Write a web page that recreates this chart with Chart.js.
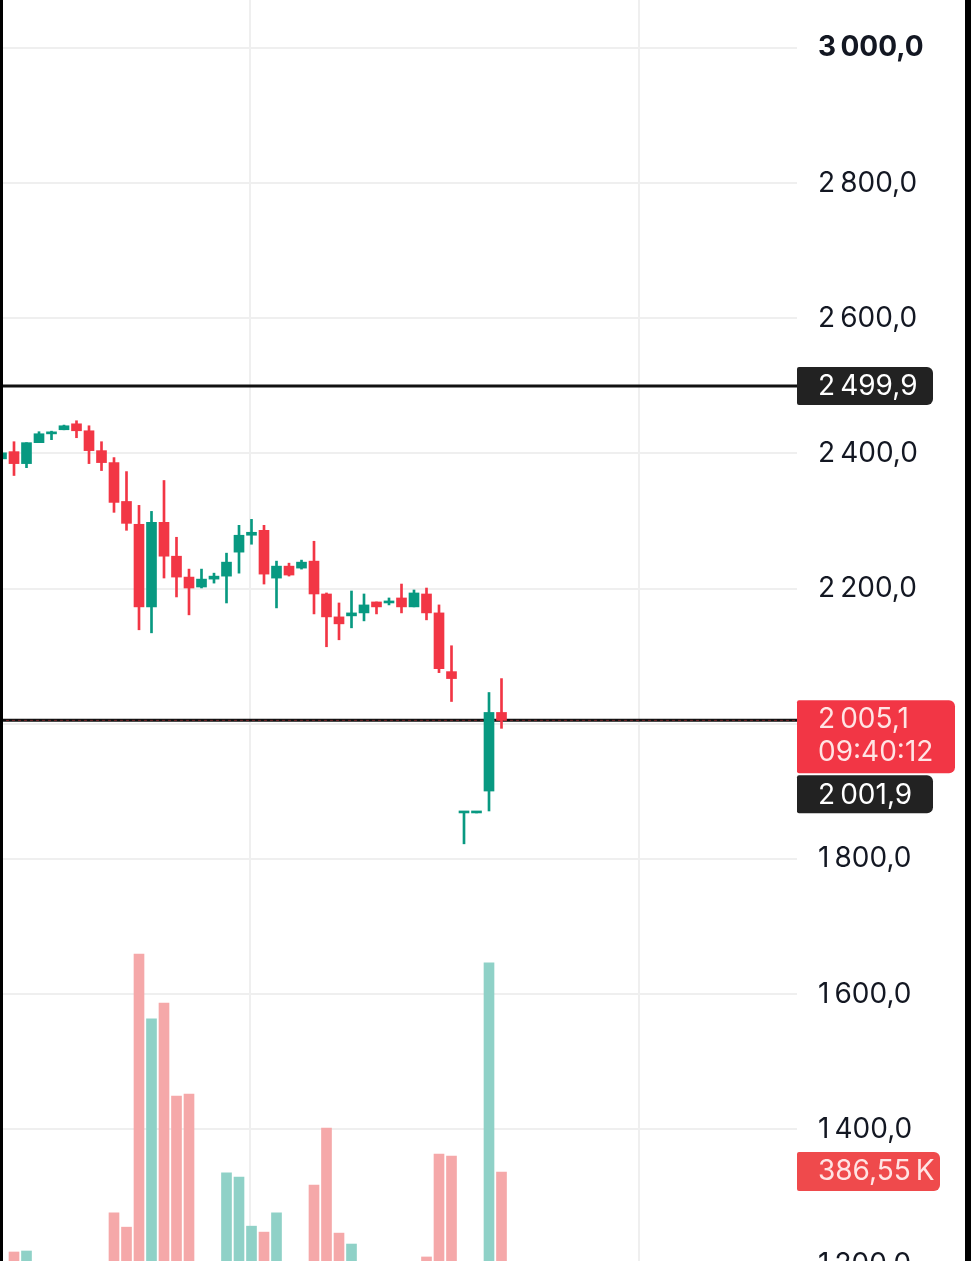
<!DOCTYPE html>
<html>
<head>
<meta charset="utf-8">
<script src="https://cdn.jsdelivr.net/npm/chart.js@4/dist/chart.umd.min.js"></script>
<style>
  html, body { margin: 0; padding: 0; background: #fff; overflow: hidden; width: 971px; height: 1261px; }
  #wrap { position: relative; width: 971px; height: 1300px; }
  .edge { position: absolute; top: 0; height: 1261px; background: #000; }
</style>
</head>
<body>
<div id="wrap">
  <canvas id="chart" width="971" height="1300"></canvas>
  <div class="edge" style="left:0;width:3px"></div>
  <div class="edge" style="right:0;width:6px"></div>
</div>
<script>
// --- datos de las velas ---
const opens  = [2392, 2402.7, 2385, 2416, 2429, 2435.1, 2443.9, 2433.6, 2404.2, 2386.5,
                2329, 2295.2, 2173, 2298.1, 2248, 2217.1, 2202.4, 2214.1, 2218.5, 2254,
                2279, 2286.3, 2215.6, 2233.3, 2230.4, 2240.7, 2192.1, 2158.2, 2159.7, 2164.1,
                2180.3, 2178.8, 2186.2, 2173, 2192.1, 2164.1, 2077.2, 1868.1, 1868.1, 1900.5,
                2016.8];
const highs  = [2405, 2417.4, 2416, 2432.2, 2433, 2442, 2448.4, 2441, 2417.4, 2393.9,
                2373.2, 2323.2, 2314.3, 2360, 2276, 2228.9, 2228.9, 2222.9, 2252.5, 2293.7,
                2302.5, 2293.7, 2240.7, 2237.7, 2242.2, 2270.1, 2193.6, 2178.8, 2196.5, 2192.1,
                2180.3, 2186.2, 2206.8, 2198, 2200.9, 2175.9, 2115.5, 1868.1, 1868.1, 2046.3,
                2066.9];
const lows   = [2390, 2367.4, 2379, 2416, 2420.4, 2435, 2423.3, 2385, 2374.7, 2312.9,
                2286.3, 2139.1, 2134.6, 2215.7, 2187.7, 2161.2, 2201, 2208.2, 2178.8, 2222.9,
                2265.7, 2206.8, 2171.5, 2218.6, 2228.9, 2162.6, 2114, 2124.3, 2142, 2152.3,
                2162.6, 2175.9, 2164.1, 2173, 2153.8, 2075.7, 2033, 1822.4, 1868.1, 1871,
                1993.3];
const closes = [2401, 2385, 2416, 2429.2, 2432, 2441, 2433.6, 2404.2, 2386.5, 2327.6,
                2296.6, 2173, 2298.1, 2248, 2217.1, 2200.9, 2214.1, 2218.5, 2239.2, 2279,
                2283.4, 2221.5, 2233.3, 2220.1, 2239.2, 2192.1, 2158.2, 2147.9, 2164.1, 2175.9,
                2173, 2181.8, 2173, 2193.6, 2164.1, 2081.6, 2066.9, 1868.1, 1868.1, 2016.8,
                2005.1];
// volumen en miles (K)
const volumes = [100, 145, 148, 90, 70, 60, 80, 100, 105, 263,
                 220, 1045, 849, 897, 616, 622, 100, 80, 384, 371,
                 223, 205, 263, 90, 70, 347, 519, 202, 169, 100,
                 80, 60, 90, 100, 130, 441, 435, 40, 10, 1018,
                 386.55];

// ticks del eje de precios y lineas verticales de la cuadricula
const priceTicks = [1200, 1400, 1600, 1800, 2000, 2200, 2400, 2600, 2800, 3000];
const timeGrid = [19.88, 51.0];

// niveles marcados a la derecha
const alertLevel = 2499.9;
const lastPrice = 2005.1;
const bidPrice = 2001.9;
const countdown = '09:40:12';
const lastVolume = 386.55;

const GREEN = '#089981';
const RED = '#f23645';
const VOL_GREEN = '#8fd1c7';
const VOL_RED = '#f5a8a9';
const FONT = 'Inter, "Liberation Sans", sans-serif';

function fmt(n, dec) {
    const parts = n.toFixed(dec).split('.');
    const ent = parts[0].replace(/\B(?=(\d{3})+(?!\d))/g, '\u2009');
    return dec ? ent + ',' + parts[1] : ent;
}

const up = closes.map((c, i) => c >= opens[i]);

const wickData = lows.map((l, i) => ({ x: i, y: [l, highs[i]] }));
const bodyData = opens.map((o, i) => ({ x: i, y: [o, closes[i]] }));
const volData = volumes.map((v, i) => ({ x: i, y: v }));

// lineas horizontales y etiquetas del eje
const overlayPlugin = {
    id: 'overlay',
    beforeDatasetsDraw(chart) {
        const { ctx, chartArea, scales } = chart;
        const yA = scales.y.getPixelForValue(alertLevel);
        const yL = scales.y.getPixelForValue(lastPrice);
        ctx.save();
        ctx.strokeStyle = '#111';
        ctx.lineWidth = 3;
        ctx.beginPath();
        ctx.moveTo(chartArea.left, yA); ctx.lineTo(chartArea.right, yA);
        ctx.moveTo(chartArea.left, yL); ctx.lineTo(chartArea.right, yL);
        ctx.stroke();
        ctx.strokeStyle = 'rgba(200,50,60,0.55)';
        ctx.lineWidth = 1;
        ctx.setLineDash([3, 3]);
        ctx.beginPath();
        ctx.moveTo(chartArea.left, yL); ctx.lineTo(chartArea.right, yL);
        ctx.stroke();
        ctx.restore();
    },
    afterDraw(chart) {
        const { ctx, chartArea, scales } = chart;
        const x0 = chartArea.right;
        const tx = x0 + 21;
        ctx.save();
        ctx.font = '400 28px ' + FONT;
        ctx.textBaseline = 'middle';
        ctx.textAlign = 'left';

        function box(top, w, h, color) {
            ctx.fillStyle = color;
            ctx.beginPath();
            ctx.roundRect(x0, top, w, h, [2, 6, 6, 2]);
            ctx.fill();
        }

        const yA = scales.y.getPixelForValue(alertLevel);
        box(yA - 19, 136, 38, '#222222');
        ctx.fillStyle = '#ffffff';
        ctx.fillText(fmt(alertLevel, 1), tx, yA + 1);

        const yL = scales.y.getPixelForValue(lastPrice);
        const redTop = yL - 20;
        box(redTop, 158, 73, RED);
        ctx.fillStyle = '#ffe4e4';
        ctx.fillText(fmt(lastPrice, 1), tx, redTop + 19);
        ctx.fillText(countdown, tx, redTop + 52);

        const bidTop = redTop + 75;
        box(bidTop, 136, 38, '#222222');
        ctx.fillStyle = '#ffffff';
        ctx.fillText(fmt(bidPrice, 1), tx, bidTop + 20);

        const yV = scales.vol.getPixelForValue(lastVolume);
        box(yV - 20, 143, 39, '#ef4a4c');
        ctx.fillStyle = '#ffe4e4';
        ctx.fillText(fmt(lastVolume, 2) + '\u2009K', tx, yV);
        ctx.restore();
    }
};

new Chart(document.getElementById('chart'), {
    type: 'bar',
    data: {
        datasets: [
            {
                label: 'Volumen',
                data: volData,
                yAxisID: 'vol',
                backgroundColor: up.map(u => u ? VOL_GREEN : VOL_RED),
                barThickness: 10,
                grouped: false,
                order: 3
            },
            {
                label: 'Mecha',
                data: wickData,
                yAxisID: 'y',
                backgroundColor: up.map(u => u ? GREEN : RED),
                barThickness: 2,
                grouped: false,
                order: 2
            },
            {
                label: 'Cuerpo',
                data: bodyData,
                yAxisID: 'y',
                backgroundColor: up.map(u => u ? GREEN : RED),
                barThickness: 10,
                minBarLength: 2,
                grouped: false,
                order: 1
            }
        ]
    },
    options: {
        responsive: false,
        animation: false,
        devicePixelRatio: 1,
        layout: { padding: 0 },
        plugins: { legend: { display: false }, tooltip: { enabled: false } },
        scales: {
            x: {
                type: 'linear',
                min: -0.12,
                max: 63.64,
                offset: false,
                afterBuildTicks: s => { s.ticks = timeGrid.map(v => ({ value: v })); },
                afterFit: s => { s.height = 0; s.paddingLeft = 0; s.paddingRight = 0; },
                grid: { color: '#efefef', lineWidth: 2, drawTicks: false, offset: false },
                border: { display: false },
                ticks: { display: false }
            },
            y: {
                position: 'right',
                min: 1147.4,
                max: 3071.0,
                afterFit: s => { s.width = 174; s.paddingTop = 0; s.paddingBottom = 0; },
                afterBuildTicks: s => { s.ticks = priceTicks.map(v => ({ value: v })); },
                grid: { color: '#efefef', lineWidth: 2, drawTicks: false },
                border: { display: false },
                ticks: {
                    padding: 21,
                    color: '#131722',
                    font: c => ({ family: FONT, size: 28, weight: c.tick && c.tick.value === 3000 ? '700' : '400' }),
                    callback: v => fmt(v, 1)
                }
            },
            vol: {
                display: false,
                min: 0,
                max: 3926
            }
        }
    },
    plugins: [overlayPlugin]
});
</script>
</body>
</html>
